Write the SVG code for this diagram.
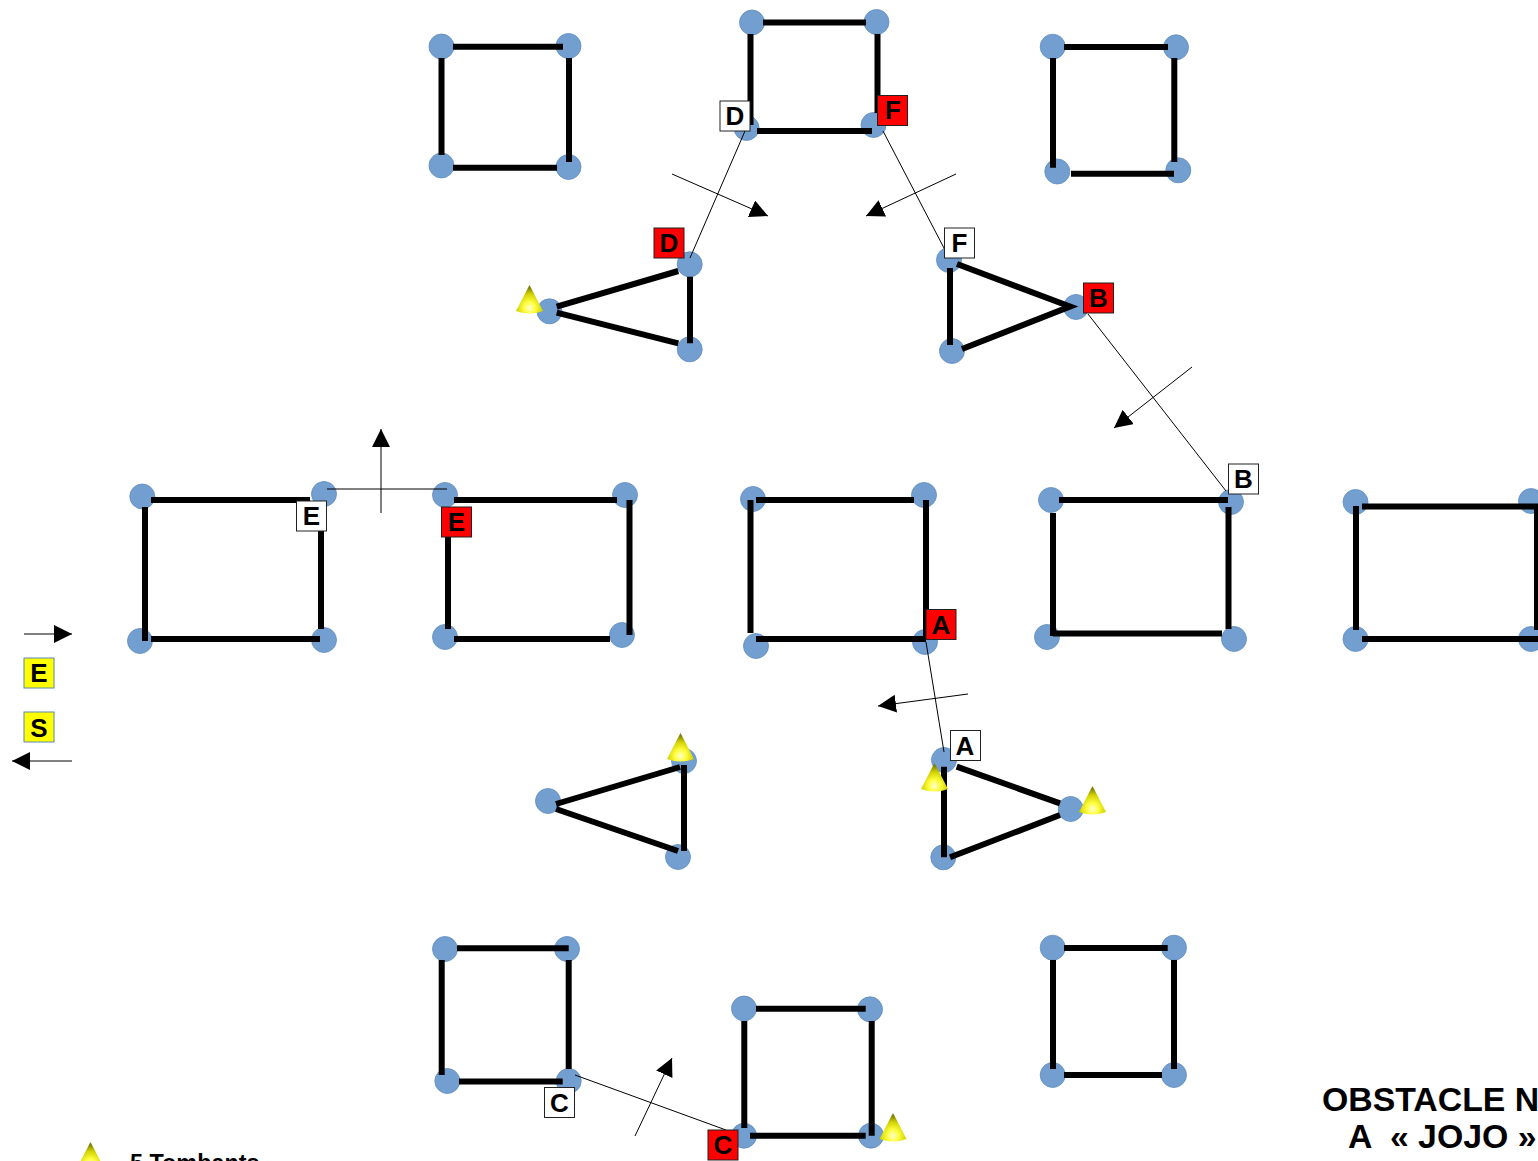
<svg xmlns="http://www.w3.org/2000/svg" width="1538" height="1161" viewBox="0 0 1538 1161">
<style>
text{font-family:"Liberation Sans",Arial,sans-serif;font-weight:700;fill:#000}
.c{fill:#729fcf;stroke:#5f8cc0;stroke-width:.8}
.s{stroke:#000;stroke-width:6;fill:none}
.t{stroke:#000;stroke-width:1;fill:none}
.a{stroke:#000;stroke-width:1;fill:none;marker-end:url(#h)}
.lb{stroke:#222;stroke-width:1}
.w{fill:#fff}.r{fill:#f00}.y{fill:#ff0;stroke:#5b86b8}
.l{font-size:26px;text-anchor:middle}
</style>
<defs>
<marker id="h" markerUnits="userSpaceOnUse" markerWidth="20" markerHeight="20" refX="18" refY="9" orient="auto"><path d="M0 0L18 9L0 18Z" fill="#000"/></marker>
<radialGradient id="g" cx=".5" cy=".8" r=".7"><stop offset="0" stop-color="#ffffd0"/><stop offset=".3" stop-color="#ffff40"/><stop offset=".7" stop-color="#d0d000"/><stop offset="1" stop-color="#808000"/></radialGradient>
<g id="cone"><path d="M13.5 0L27 26Q13.5 31 0 26Z" fill="url(#g)"/></g>
</defs>
<g id="square-tl"><circle class="c" cx="441.5" cy="46.5" r="12.5"/><circle class="c" cx="568.5" cy="46" r="12.5"/><circle class="c" cx="441.5" cy="165.5" r="12.5"/><circle class="c" cx="568.5" cy="167" r="12.5"/><path class="s" d="M453 46.7H563M441.5 58V155M569 58V162M453 167.7H557"/></g>
<g id="square-tc"><circle class="c" cx="752" cy="22.5" r="12.5"/><circle class="c" cx="876.5" cy="22" r="12.5"/><circle class="c" cx="746.5" cy="128" r="12.5"/><circle class="c" cx="873.5" cy="125" r="12.5"/><path class="s" d="M763 22.5H866M750.5 34V125M877.5 34V113M757 131H872"/></g>
<g id="square-tr"><circle class="c" cx="1052.7" cy="46.7" r="12.5"/><circle class="c" cx="1176" cy="47.3" r="12.5"/><circle class="c" cx="1057.3" cy="171.5" r="12.5"/><circle class="c" cx="1178.3" cy="170.3" r="12.5"/><path class="s" d="M1064 47H1168M1053 58V167.7M1174.3 58V162M1071 173.7H1174"/></g>
<g id="tri-d"><circle class="c" cx="689.7" cy="264.3" r="12.5"/><circle class="c" cx="549.5" cy="311.3" r="12.5"/><circle class="c" cx="689.7" cy="349.3" r="12.5"/><path class="s" d="M678.3 271L556.7 306.7M556.7 312.7L678.3 343.3M690 276.7V343.3"/></g>
<g id="tri-f"><circle class="c" cx="949" cy="260" r="12.5"/><circle class="c" cx="1076" cy="307" r="12.5"/><circle class="c" cx="952" cy="351" r="12.5"/><path class="s" d="M957 264L1070 306.5L962 349M950 268V345"/></g>
<g id="rect-1"><circle class="c" cx="142.3" cy="496.5" r="12.5"/><circle class="c" cx="324" cy="494" r="12.5"/><circle class="c" cx="140" cy="641" r="12.5"/><circle class="c" cx="324" cy="640" r="12.5"/><path class="s" d="M151 500H310M145 507V641M321 525V629M151 639H320"/></g>
<g id="rect-2"><circle class="c" cx="445" cy="495" r="12.5"/><circle class="c" cx="625" cy="495" r="12.5"/><circle class="c" cx="445" cy="637" r="12.5"/><circle class="c" cx="622" cy="635" r="12.5"/><path class="s" d="M454 500H617M448 510V629M629.5 500V635M454 639H610"/></g>
<g id="rect-3"><circle class="c" cx="753" cy="499" r="12.5"/><circle class="c" cx="924" cy="495" r="12.5"/><circle class="c" cx="756" cy="646" r="12.5"/><circle class="c" cx="925" cy="642" r="12.5"/><path class="s" d="M756 500H914M750.5 500V633M926 500V639M756 639H926"/></g>
<g id="rect-4"><circle class="c" cx="1051" cy="500" r="12.5"/><circle class="c" cx="1231" cy="502" r="12.5"/><circle class="c" cx="1047" cy="637" r="12.5"/><circle class="c" cx="1234" cy="639" r="12.5"/><path class="s" d="M1059 500H1228M1053 513V636M1228.5 507V629M1053 633.5H1222"/></g>
<g id="rect-5"><circle class="c" cx="1355.5" cy="502" r="12.5"/><circle class="c" cx="1531" cy="501" r="12.5"/><circle class="c" cx="1355.5" cy="639" r="12.5"/><circle class="c" cx="1531" cy="639" r="12.5"/><path class="s" d="M1362 506.5H1538M1356 506V630M1537 506V630M1362 639H1538"/></g>
<g id="tri-bl"><circle class="c" cx="684" cy="761" r="12.5"/><circle class="c" cx="548" cy="801" r="12.5"/><circle class="c" cx="678" cy="857" r="12.5"/><path class="s" d="M556 804L680 767M556 809L678 851M684 765V851"/></g>
<g id="tri-a"><circle class="c" cx="944" cy="760" r="12.5"/><circle class="c" cx="1070.7" cy="809" r="12.5"/><circle class="c" cx="943.3" cy="857.3" r="12.5"/><path class="s" d="M956.7 766.7L1060 803.3M950 857.3L1060 815M944 766.7V857.3"/></g>
<g id="square-bl"><circle class="c" cx="445" cy="949" r="12.5"/><circle class="c" cx="567" cy="949" r="12.5"/><circle class="c" cx="447.3" cy="1081" r="12.5"/><circle class="c" cx="568.7" cy="1081" r="12.5"/><path class="s" d="M457 948.3H568.7M441.7 960V1075M568.7 960V1069M459 1081.5H562.7"/></g>
<g id="square-bc"><circle class="c" cx="744" cy="1008.5" r="12.5"/><circle class="c" cx="870" cy="1009.3" r="12.5"/><circle class="c" cx="744" cy="1135.7" r="12.5"/><circle class="c" cx="871" cy="1135.7" r="12.5"/><path class="s" d="M756 1008.7H865.7M744.3 1021V1128M871.7 1021V1135.7M750 1135.7H865.7"/></g>
<g id="square-br"><circle class="c" cx="1052.7" cy="947.7" r="12.5"/><circle class="c" cx="1174" cy="947.7" r="12.5"/><circle class="c" cx="1052.7" cy="1075" r="12.5"/><circle class="c" cx="1174" cy="1075" r="12.5"/><path class="s" d="M1064 948H1167.7M1053 960V1069M1174 960V1069M1064 1075H1162"/></g>
<g id="cones"><use href="#cone" x="516" y="285"/><use href="#cone" x="921" y="763"/><use href="#cone" x="1079" y="786"/><use href="#cone" x="667" y="733"/><use href="#cone" x="879.5" y="1113"/><use href="#cone" x="77" y="1142"/></g>
<g id="connectors">
<path class="t" d="M745 131L690 258"/><path class="t" d="M883 131L945 250"/><path class="t" d="M1088 314L1226 491"/><path class="t" d="M926 642L944 752"/><path class="t" d="M327 489H447"/><path class="t" d="M575 1075L726 1130"/>
<path class="a" d="M672 174L768 216"/><path class="a" d="M956 174L866 216"/><path class="a" d="M1192 367L1114 428"/><path class="a" d="M381 513V429"/><path class="a" d="M968 694L878 706"/><path class="a" d="M635 1136L672 1058"/><path class="a" d="M24 634H72"/><path class="a" d="M72 761H12"/>
</g>
<g id="label-d-w"><rect class="lb w" x="720" y="101" width="30" height="30"/><text class="l" x="735" y="125">D</text></g>
<g id="label-d-r"><rect class="lb r" x="654" y="228" width="30" height="30"/><text class="l" x="669" y="252">D</text></g>
<g id="label-f-r"><rect class="lb r" x="877.5" y="95.5" width="30" height="30"/><text class="l" x="893" y="119">F</text></g>
<g id="label-f-w"><rect class="lb w" x="944.5" y="228" width="30" height="30"/><text class="l" x="959.5" y="252">F</text></g>
<g id="label-b-r"><rect class="lb r" x="1083.5" y="283" width="30" height="30"/><text class="l" x="1098.5" y="307">B</text></g>
<g id="label-b-w"><rect class="lb w" x="1228.5" y="464" width="30" height="30"/><text class="l" x="1243.5" y="488">B</text></g>
<g id="label-e-w"><rect class="lb w" x="296.5" y="501" width="30" height="30"/><text class="l" x="311.5" y="525">E</text></g>
<g id="label-e-r"><rect class="lb r" x="441.5" y="507" width="30" height="30"/><text class="l" x="456.5" y="531">E</text></g>
<g id="label-a-r"><rect class="lb r" x="926" y="609.5" width="30" height="30"/><text class="l" x="941" y="633.5">A</text></g>
<g id="label-a-w"><rect class="lb w" x="950.5" y="730.5" width="30" height="30"/><text class="l" x="965" y="755">A</text></g>
<g id="label-c-w"><rect class="lb w" x="544.5" y="1087.5" width="30" height="30"/><text class="l" x="559.5" y="1112">C</text></g>
<g id="label-c-r"><rect class="lb r" x="708" y="1130" width="30" height="30"/><text class="l" x="723" y="1154">C</text></g>
<g id="legend-e"><rect class="y" x="24" y="658" width="30" height="30"/><text class="l" x="39" y="682">E</text></g>
<g id="legend-s"><rect class="y" x="24" y="712" width="30" height="30"/><text class="l" x="39" y="736.5">S</text></g>
<text x="130" y="1171" font-size="23.4">5 Tombants</text>
<text x="1322" y="1111" font-size="33.8">OBSTACLE N</text>
<text x="1348" y="1148" font-size="33.8" xml:space="preserve">A  « JOJO »</text>
</svg>
